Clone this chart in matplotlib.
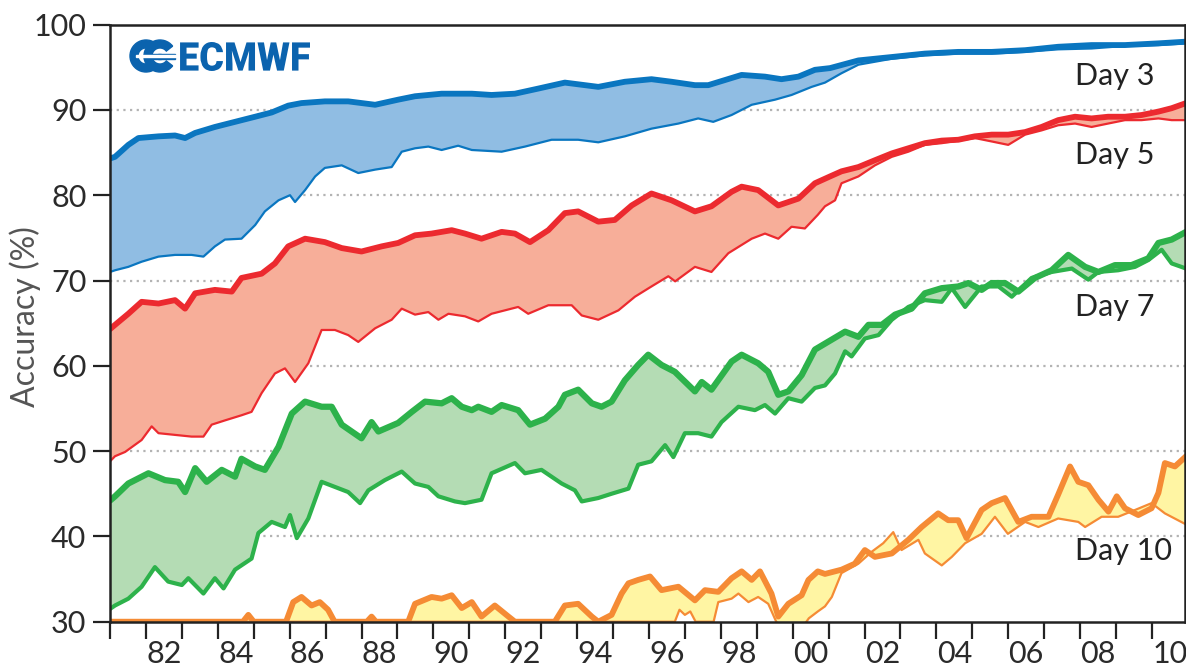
import numpy as np
import matplotlib.pyplot as plt
from matplotlib.patches import PathPatch, Wedge, Rectangle
from matplotlib.textpath import TextPath
from matplotlib.font_manager import FontProperties
from matplotlib.path import Path
from matplotlib.transforms import Affine2D

# Forecast accuracy (%) by lead time; thick line = northern hemisphere, thin = southern
day3_nh_years = [1981.0, 1981.14, 1981.51, 1981.79, 1982.35, 1982.81, 1983.09, 1983.37, 1983.92, 1984.48,
                 1985.04, 1985.5, 1985.96, 1986.33, 1986.98, 1987.63, 1988.38, 1989.02, 1989.49, 1990.23,
                 1991.07, 1991.62, 1992.27, 1992.92, 1993.66, 1994.59, 1995.33, 1996.07, 1996.63, 1997.28,
                 1997.65, 1998.58, 1999.23, 1999.69, 2000.16, 2000.62, 2001.04, 2001.83, 2002.76, 2003.68,
                 2004.61, 2005.54, 2006.47, 2007.39, 2008.32, 2009.25, 2010.18, 2010.95]
day3_nh = [84.3, 84.5, 85.9, 86.7, 86.9, 87.0, 86.7, 87.3, 88.0, 88.6,
           89.2, 89.7, 90.5, 90.8, 91.0, 91.0, 90.6, 91.2, 91.6, 91.9,
           91.9, 91.75, 91.9, 92.5, 93.2, 92.7, 93.3, 93.6, 93.3, 92.9,
           92.9, 94.1, 93.9, 93.6, 93.9, 94.7, 94.9, 95.8, 96.2, 96.6,
           96.8, 96.8, 97.0, 97.4, 97.6, 97.6, 97.8, 98.0]

day3_sh_years = [1981.0, 1981.14, 1981.51, 1981.88, 1982.35, 1982.81, 1983.27, 1983.6, 1983.92, 1984.2,
                 1984.66, 1985.04, 1985.31, 1985.69, 1986.01, 1986.15, 1986.43, 1986.71, 1986.98, 1987.45,
                 1987.91, 1988.38, 1988.84, 1989.12, 1989.49, 1989.86, 1990.23, 1990.69, 1991.07, 1991.9,
                 1992.55, 1993.29, 1994.03, 1994.59, 1995.33, 1996.07, 1996.82, 1997.37, 1997.79, 1998.3,
                 1998.86, 1999.51, 1999.97, 2000.53, 2000.9, 2001.36, 2001.83, 2002.76, 2003.68, 2004.61,
                 2005.54, 2006.47, 2007.39, 2008.32, 2009.25, 2010.18, 2010.95]
day3_sh = [71.0, 71.2, 71.6, 72.2, 72.8, 73.0, 73.0, 72.8, 74.0, 74.8,
           74.9, 76.5, 78.1, 79.4, 80.0, 79.2, 80.6, 82.2, 83.2, 83.5,
           82.6, 83.0, 83.3, 85.1, 85.5, 85.7, 85.3, 85.8, 85.3, 85.1,
           85.7, 86.5, 86.5, 86.2, 86.9, 87.8, 88.4, 89.0, 88.6, 89.4,
           90.6, 91.2, 91.75, 92.7, 93.2, 94.3, 95.3, 96.0, 96.4, 96.6,
           96.6, 96.8, 97.1, 97.2, 97.5, 97.6, 97.8]

day5_nh_years = [1981.0, 1981.14, 1981.51, 1981.88, 1982.35, 1982.81, 1983.09, 1983.37, 1983.92, 1984.39,
                 1984.66, 1985.22, 1985.59, 1985.96, 1986.43, 1986.98, 1987.45, 1988.0, 1988.56, 1989.02,
                 1989.49, 1989.95, 1990.51, 1990.88, 1991.34, 1991.9, 1992.27, 1992.69, 1993.2, 1993.66,
                 1994.03, 1994.59, 1995.05, 1995.52, 1996.07, 1996.63, 1997.28, 1997.74, 1998.3, 1998.58,
                 1999.04, 1999.6, 2000.16, 2000.62, 2001.04, 2001.36, 2001.83, 2002.29, 2002.76, 2003.22,
                 2003.68, 2004.15, 2004.61, 2005.07, 2005.54, 2006.0, 2006.47, 2006.93, 2007.39, 2007.86,
                 2008.32, 2008.78, 2009.25, 2009.71, 2010.18, 2010.55, 2010.95]
day5_nh = [64.3, 64.8, 66.1, 67.5, 67.3, 67.7, 66.7, 68.5, 68.9, 68.7,
           70.3, 70.8, 72.0, 74.0, 74.9, 74.5, 73.8, 73.4, 74.0, 74.4,
           75.3, 75.5, 75.9, 75.5, 74.9, 75.7, 75.5, 74.5, 75.9, 77.9,
           78.1, 76.9, 77.1, 78.8, 80.2, 79.4, 78.1, 78.7, 80.4, 81.0,
           80.6, 78.8, 79.6, 81.4, 82.2, 82.8, 83.3, 84.1, 84.9, 85.5,
           86.1, 86.4, 86.5, 86.9, 87.1, 87.1, 87.4, 88.0, 88.8, 89.2,
           89.0, 89.2, 89.2, 89.4, 89.8, 90.2, 90.8]

day5_sh_years = [1981.0, 1981.14, 1981.42, 1981.88, 1982.16, 1982.35, 1982.81, 1983.27, 1983.6, 1983.83,
                 1984.2, 1984.66, 1984.94, 1985.22, 1985.59, 1985.87, 1986.15, 1986.52, 1986.89, 1987.26,
                 1987.63, 1987.91, 1988.38, 1988.84, 1989.12, 1989.49, 1989.86, 1990.14, 1990.42, 1990.88,
                 1991.25, 1991.62, 1992.36, 1992.64, 1993.2, 1993.85, 1994.13, 1994.59, 1995.15, 1995.61,
                 1996.07, 1996.54, 1996.73, 1997.28, 1997.74, 1998.21, 1998.86, 1999.23, 1999.6, 1999.97,
                 2000.34, 2000.7, 2000.9, 2001.18, 2001.36, 2001.83, 2002.29, 2002.76, 2003.22, 2003.68,
                 2004.15, 2004.61, 2005.07, 2005.54, 2006.0, 2006.47, 2006.93, 2007.39, 2007.86, 2008.32,
                 2008.78, 2009.25, 2009.71, 2010.18, 2010.55, 2010.95]
day5_sh = [48.8, 49.4, 49.9, 51.3, 52.9, 52.1, 51.9, 51.7, 51.7, 53.1,
           53.6, 54.2, 54.6, 56.8, 59.1, 59.7, 58.1, 60.3, 64.2, 64.2,
           63.6, 62.8, 64.4, 65.4, 66.7, 66.0, 66.3, 65.4, 66.1, 65.8,
           65.2, 66.1, 66.9, 66.1, 67.1, 67.1, 65.9, 65.4, 66.5, 68.1,
           69.3, 70.5, 69.9, 71.6, 71.0, 73.2, 74.9, 75.5, 74.9, 76.3,
           76.1, 77.7, 78.7, 79.4, 81.4, 82.2, 83.5, 84.5, 85.1, 85.9,
           86.1, 86.4, 86.7, 86.3, 85.9, 87.1, 87.6, 88.2, 88.4, 88.0,
           88.4, 88.8, 88.8, 89.0, 88.8, 88.8]

day7_nh_years = [1981.0, 1981.14, 1981.51, 1982.07, 1982.53, 1982.9, 1983.09, 1983.37, 1983.69, 1984.11,
                 1984.48, 1984.66, 1985.04, 1985.31, 1985.69, 1986.06, 1986.43, 1986.89, 1987.17, 1987.45,
                 1988.0, 1988.28, 1988.47, 1989.02, 1989.4, 1989.77, 1990.23, 1990.51, 1990.79, 1991.07,
                 1991.25, 1991.62, 1991.9, 1992.36, 1992.69, 1993.11, 1993.48, 1993.66, 1994.03, 1994.41,
                 1994.68, 1994.96, 1995.33, 1995.7, 1995.98, 1996.35, 1996.72, 1997.28, 1997.47, 1997.74,
                 1998.3, 1998.58, 1999.04, 1999.32, 1999.6, 1999.88, 2000.25, 2000.62, 2000.9, 2001.46,
                 2001.83, 2002.11, 2002.48, 2002.85, 2003.31, 2003.68, 2004.15, 2004.61, 2004.89, 2005.26,
                 2005.54, 2005.91, 2006.28, 2006.74, 2007.21, 2007.67, 2008.14, 2008.51, 2008.97, 2009.43,
                 2009.9, 2010.18, 2010.55, 2010.95]
day7_nh = [44.2, 44.7, 46.2, 47.4, 46.6, 46.4, 45.2, 48.0, 46.4, 47.8,
           47.0, 49.1, 48.2, 47.8, 50.5, 54.4, 55.8, 55.2, 55.2, 53.1,
           51.5, 53.4, 52.3, 53.3, 54.6, 55.8, 55.6, 56.2, 55.2, 54.8,
           55.2, 54.6, 55.4, 54.8, 53.1, 53.8, 55.2, 56.6, 57.2, 55.6,
           55.2, 55.8, 58.3, 60.1, 61.3, 60.1, 59.3, 57.0, 58.1, 57.2,
           60.5, 61.3, 60.3, 59.3, 56.6, 57.0, 58.9, 61.9, 62.6, 64.0,
           63.4, 64.8, 64.8, 66.0, 66.7, 68.5, 69.1, 69.3, 69.7, 68.9,
           69.7, 69.7, 68.7, 70.3, 71.2, 73.0, 71.6, 71.0, 71.8, 71.8,
           72.6, 74.4, 74.8, 75.7]

day7_sh_years = [1981.0, 1981.14, 1981.51, 1981.88, 1982.25, 1982.62, 1983.0, 1983.18, 1983.6, 1983.92,
                 1984.16, 1984.48, 1984.94, 1985.13, 1985.5, 1985.87, 1986.01, 1986.2, 1986.52, 1986.89,
                 1987.26, 1987.63, 1987.96, 1988.19, 1988.65, 1989.12, 1989.49, 1989.86, 1990.14, 1990.6,
                 1990.88, 1991.34, 1991.62, 1992.27, 1992.55, 1993.01, 1993.57, 1993.94, 1994.13, 1994.59,
                 1994.96, 1995.43, 1995.7, 1996.07, 1996.45, 1996.68, 1997.0, 1997.37, 1997.74, 1998.02,
                 1998.49, 1998.95, 1999.23, 1999.51, 1999.88, 2000.25, 2000.62, 2000.9, 2001.18, 2001.46,
                 2001.64, 2002.01, 2002.39, 2002.76, 2003.22, 2003.68, 2004.15, 2004.43, 2004.8, 2005.26,
                 2005.73, 2006.1, 2006.65, 2007.21, 2007.77, 2008.23, 2008.51, 2009.06, 2009.53, 2009.9,
                 2010.27, 2010.55, 2010.95]
day7_sh = [31.5, 31.9, 32.7, 34.1, 36.4, 34.7, 34.3, 35.1, 33.3, 35.1,
           33.9, 36.1, 37.4, 40.4, 41.7, 41.1, 42.5, 39.8, 42.1, 46.4,
           45.8, 45.2, 43.9, 45.4, 46.6, 47.6, 46.2, 45.8, 44.7, 44.1,
           43.9, 44.3, 47.4, 48.6, 47.4, 47.8, 46.2, 45.4, 44.1, 44.5,
           45.0, 45.6, 48.4, 48.8, 50.7, 49.3, 52.1, 52.1, 51.7, 53.4,
           55.2, 54.8, 55.4, 54.4, 56.2, 55.8, 57.4, 57.7, 59.1, 61.7,
           61.1, 63.2, 63.6, 65.4, 66.9, 67.7, 67.5, 69.1, 66.9, 69.3,
           69.3, 68.1, 70.3, 71.0, 71.4, 70.1, 71.0, 71.2, 71.6, 72.4,
           73.6, 72.0, 71.4]

day10_nh_years = [1981.0, 1984.7, 1984.85, 1985.0, 1985.9, 1986.1, 1986.33, 1986.61, 1986.84, 1987.07,
                  1987.25, 1988.15, 1988.28, 1988.4, 1989.3, 1989.49, 1989.95, 1990.23, 1990.51, 1990.79,
                  1991.07, 1991.34, 1991.71, 1992.09, 1992.27, 1993.38, 1993.66, 1994.03, 1994.41, 1994.59,
                  1994.96, 1995.24, 1995.43, 1995.7, 1996.03, 1996.35, 1996.82, 1997.28, 1997.56, 1997.93,
                  1998.3, 1998.58, 1998.86, 1999.09, 1999.41, 1999.6, 1999.88, 2000.25, 2000.44, 2000.7,
                  2000.9, 2001.36, 2001.73, 2002.01, 2002.29, 2002.76, 2003.22, 2003.59, 2004.05, 2004.33,
                  2004.61, 2004.84, 2005.26, 2005.54, 2005.91, 2006.28, 2006.65, 2007.12, 2007.39, 2007.72,
                  2007.95, 2008.23, 2008.51, 2008.79, 2009.02, 2009.25, 2009.62, 2009.99, 2010.18, 2010.36,
                  2010.64, 2010.95]
day10_nh = [30.0, 30.0, 30.8, 30.0, 30.0, 32.3, 32.9, 31.9, 32.3, 31.4,
            30.0, 30.0, 30.6, 30.0, 30.0, 32.1, 32.9, 32.7, 33.1, 31.6,
            32.3, 30.6, 31.9, 30.6, 30.0, 30.0, 31.9, 32.1, 30.6, 30.0,
            30.8, 33.3, 34.5, 34.9, 35.3, 33.7, 34.1, 32.5, 33.7, 33.5,
            35.1, 35.9, 34.9, 35.9, 33.3, 30.6, 32.1, 33.1, 34.9, 35.9,
            35.6, 36.1, 36.8, 38.4, 37.6, 38.0, 39.6, 41.1, 42.7, 41.9,
            41.9, 39.8, 43.1, 43.9, 44.5, 41.7, 42.3, 42.3, 44.9, 48.2,
            46.4, 46.0, 44.3, 42.9, 44.7, 43.3, 42.5, 43.3, 45.1, 48.6,
            48.2, 49.4]

day10_sh_years = [1981.0, 1996.72, 1996.85, 1997.0, 1997.15, 1997.3, 1997.8, 1997.93, 1998.3, 1998.49,
                  1998.77, 1999.04, 1999.32, 1999.5, 1999.6, 2000.3, 2000.45, 2000.7, 2000.9, 2001.09,
                  2001.36, 2001.83, 2002.2, 2002.52, 2002.8, 2003.03, 2003.5, 2003.68, 2004.15, 2004.43,
                  2004.8, 2005.26, 2005.63, 2005.99, 2006.47, 2006.84, 2007.39, 2007.95, 2008.14, 2008.6,
                  2009.06, 2009.53, 2009.99, 2010.36, 2010.95]
day10_sh = [30.0, 30.0, 31.4, 30.8, 31.2, 30.0, 30.0, 32.3, 32.7, 33.3,
            32.3, 32.9, 32.1, 30.4, 29.5, 29.5, 30.4, 31.2, 31.8, 32.9,
            35.7, 36.8, 38.2, 39.2, 40.5, 38.4, 39.6, 38.0, 36.6, 37.6,
            39.2, 40.3, 42.3, 40.3, 41.7, 41.1, 42.1, 41.7, 41.1, 42.3,
            42.3, 43.1, 43.9, 42.7, 41.4]

day_labels = ['Day 3', 'Day 5', 'Day 7', 'Day 10']
label_y = [94.0, 84.7, 66.9, 38.3]
x_tick_labels = ['82', '84', '86', '88', '90', '92', '94', '96', '98',
                 '00', '02', '04', '06', '08', '10']

W, H = 1186, 669
plt.rcParams['font.family'] = ['Lato', 'DejaVu Sans']

fig = plt.figure(figsize=(W / 100, H / 100), dpi=100)
ax = fig.add_axes([110 / W, 47.3 / H, 1075 / W, 597.1 / H])

series = [
    (day3_nh_years, day3_nh, day3_sh_years, day3_sh, '#0a76c0', '#90bde3', 4.2, 1.6),
    (day5_nh_years, day5_nh, day5_sh_years, day5_sh, '#ec2a2f', '#f7ae99', 4.2, 1.6),
    (day7_nh_years, day7_nh, day7_sh_years, day7_sh, '#2db24b', '#b4dcb4', 4.5, 3.0),
    (day10_nh_years, day10_nh, day10_sh_years, day10_sh, '#f58b35', '#fff5a3', 4.2, 1.6),
]

for xn, yn, xs, ys, line_c, fill_c, lw_n, lw_s in series:
    xn, yn, xs, ys = map(np.asarray, (xn, yn, xs, ys))
    # band between the two hemispheres as one closed polygon
    ax.fill(np.r_[xn, xs[::-1]], np.r_[yn, ys[::-1]], color=fill_c, lw=0, zorder=1)
    ax.plot(xs, ys, color=line_c, lw=lw_s, solid_joinstyle='round', zorder=2)
    ax.plot(xn, yn, color=line_c, lw=lw_n, solid_joinstyle='round',
            solid_capstyle='round', zorder=3)

for v in range(40, 100, 10):
    ax.axhline(v, color='#b3b3b3', lw=1.6, ls=(0, (1, 2)), zorder=0.5)

for txt, y in zip(day_labels, label_y):
    ax.text(2007.86, y, txt, ha='left', va='center', fontsize=22, color='#222222', zorder=5)

ax.set_xlim(1981, 2010.92)
ax.set_ylim(30, 100)

ax.set_yticks(range(30, 101, 10))
ax.set_xticks(np.arange(1981, 2011))
ax.set_xticklabels([])
ax.set_xticks(np.arange(1982.5, 2011, 2), minor=True)
ax.set_xticklabels(x_tick_labels, minor=True)
ax.tick_params(axis='both', which='major', direction='out', length=12, width=1.6,
               color='#222222', labelsize=22, labelcolor='#2a2a2a')
ax.tick_params(axis='y', pad=5)
ax.tick_params(axis='x', which='minor', length=0, pad=13, labelsize=22, labelcolor='#2a2a2a')
for s in ax.spines.values():
    s.set_color('#222222')
    s.set_linewidth(1.8)
    s.set_zorder(6)

fig.text(25 / W, 1 - 317 / H, 'Accuracy (%)', rotation=90, ha='center', va='center',
         fontsize=23, color='#555555')

# logo, laid out in image pixels (y downward)
px = Affine2D().scale(1 / W, -1 / H).translate(0, 1) + fig.transFigure
logo_c = '#0b63ae'
for cx in (146, 160):
    fig.patches.append(Wedge((cx, 56), 16, 38, 322, width=8, color=logo_c, transform=px))
    fig.patches.append(Rectangle((cx - 2, 53.5), 17, 5, color=logo_c, transform=px))
fig.patches.append(Rectangle((136, 55.3), 42, 1.4, color='white', transform=px))

tp = TextPath((0, 0), 'ECMWF', size=1, prop=FontProperties(family='Roboto', weight='black'))
v = tp.vertices.copy()
x0, x1 = v[:, 0].min(), v[:, 0].max()
y0, y1 = v[:, 1].min(), v[:, 1].max()
v[:, 0] = 178 + (v[:, 0] - x0) * 132 / (x1 - x0)
v[:, 1] = 71 - (v[:, 1] - y0) * 29 / (y1 - y0)
fig.patches.append(PathPatch(Path(v, tp.codes), color=logo_c, lw=0, transform=px))

fig.savefig('out.png', dpi=100)
